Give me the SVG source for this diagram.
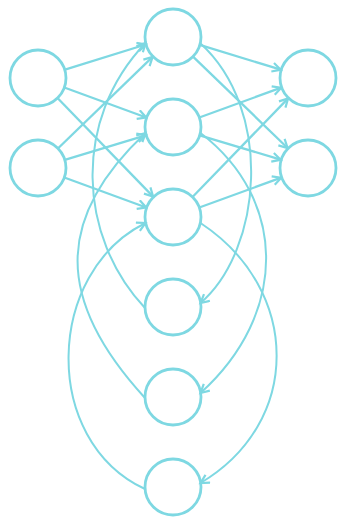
<svg xmlns="http://www.w3.org/2000/svg" width="339" height="518" viewBox="0 0 339 518">
<style>
.n{fill:none;stroke:#7ed8e2;stroke-width:2.8}
.e{fill:none;stroke:#7ed8e2;stroke-width:2.3;marker-end:url(#a)}
.c{fill:none;stroke:#7ed8e2;stroke-width:2;marker-end:url(#a)}
</style>
<defs>
<marker id="a" markerWidth="12" markerHeight="12" refX="9.5" refY="5.5" orient="auto" markerUnits="userSpaceOnUse">
<path d="M1,1 L9.5,5.5 L1,10" fill="none" stroke="#7ed8e2" stroke-width="2.2"/>
</marker>
</defs>
<rect width="339" height="518" fill="#ffffff"/>
<g id="connectors">
<line class="e" x1="65" y1="69.7" x2="145.8" y2="44.5"/>
<line class="e" x1="58.4" y1="148" x2="152.6" y2="56.9"/>
<line class="e" x1="64.3" y1="87.5" x2="146.2" y2="117.5"/>
<line class="e" x1="64.8" y1="159.8" x2="145.7" y2="135.3"/>
<line class="e" x1="57.5" y1="98" x2="153.1" y2="196.6"/>
<line class="e" x1="64.3" y1="177.5" x2="146.2" y2="207.5"/>
<line class="e" x1="199.7" y1="44.8" x2="280.8" y2="69.7"/>
<line class="e" x1="193" y1="56.6" x2="287.6" y2="148"/>
<line class="e" x1="199.3" y1="117.5" x2="281.2" y2="87.7"/>
<line class="e" x1="199.7" y1="135.3" x2="280.7" y2="159.7"/>
<line class="e" x1="192.5" y1="197" x2="288.1" y2="98.4"/>
<line class="e" x1="199.3" y1="207.5" x2="281.2" y2="177.7"/>
<path class="c" d="M145,308 C78,237 72,120 145.5,43"/>
<path class="c" d="M145,398 C55,300 55,218 145.5,133"/>
<path class="c" d="M145,489 C40,440 46,272 145.5,223"/>
<path class="c" d="M200,43 C274,110 262,250 200.5,303"/>
<path class="c" d="M200.5,133 C288,200 288,314 200.5,393"/>
<path class="c" d="M200.5,223 C302,290 302,423 200.5,483"/>
</g>
<g id="in1"><circle class="n" cx="38" cy="78" r="28"/></g>
<g id="in2"><circle class="n" cx="38" cy="168" r="28"/></g>
<g id="h1"><circle class="n" cx="173" cy="37" r="28"/></g>
<g id="h2"><circle class="n" cx="173" cy="127" r="28"/></g>
<g id="h3"><circle class="n" cx="173" cy="217" r="28"/></g>
<g id="h4"><circle class="n" cx="173" cy="307" r="28"/></g>
<g id="h5"><circle class="n" cx="173" cy="397" r="28"/></g>
<g id="h6"><circle class="n" cx="173" cy="487" r="28"/></g>
<g id="out1"><circle class="n" cx="308" cy="78" r="28"/></g>
<g id="out2"><circle class="n" cx="308" cy="168" r="28"/></g>
</svg>
